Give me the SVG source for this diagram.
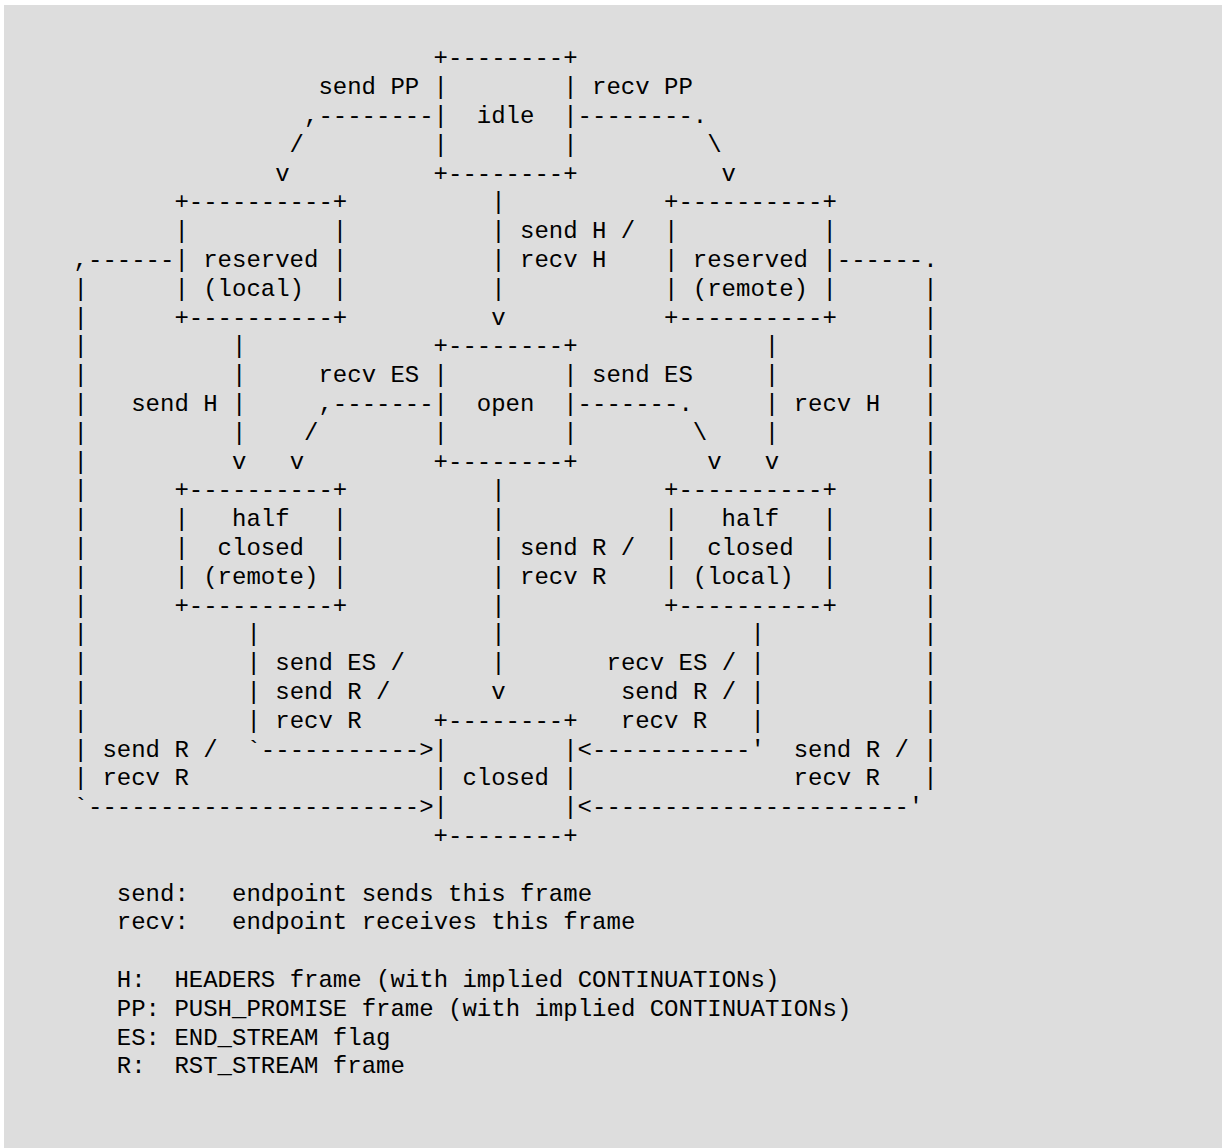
<svg xmlns="http://www.w3.org/2000/svg" width="1222" height="1148" viewBox="0 0 1222 1148" xml:space="preserve">
<style>
text { font-family: "Courier New", "Nimbus Mono PS", "Liberation Mono", monospace; font-size: 24px; fill: #000; white-space: pre; }
</style>
<rect x="0" y="0" width="1222" height="1148" fill="#ffffff"/>
<rect x="4" y="5" width="1218" height="1143" fill="#dddddd"/>

<g id="node-idle">
<text x="433.6" y="65.4">+--------+</text>
<text x="433.6" y="94.2">|        |</text>
<text x="433.6" y="123">|  idle  |</text>
<text x="433.6" y="151.8">|        |</text>
<text x="433.6" y="180.6">+--------+</text>
</g>

<g id="node-reserved-local">
<text x="174.4" y="209.4">+----------+</text>
<text x="174.4" y="238.2">|          |</text>
<text x="174.4" y="267">| reserved |</text>
<text x="174.4" y="295.8">| (local)  |</text>
<text x="174.4" y="324.6">+----------+</text>
</g>

<g id="node-reserved-remote">
<text x="664" y="209.4">+----------+</text>
<text x="664" y="238.2">|          |</text>
<text x="664" y="267">| reserved |</text>
<text x="664" y="295.8">| (remote) |</text>
<text x="664" y="324.6">+----------+</text>
</g>

<g id="node-open">
<text x="433.6" y="353.4">+--------+</text>
<text x="433.6" y="382.2">|        |</text>
<text x="433.6" y="411">|  open  |</text>
<text x="433.6" y="439.8">|        |</text>
<text x="433.6" y="468.6">+--------+</text>
</g>

<g id="node-half-closed-remote">
<text x="174.4" y="497.4">+----------+</text>
<text x="174.4" y="526.2">|   half   |</text>
<text x="174.4" y="555">|  closed  |</text>
<text x="174.4" y="583.8">| (remote) |</text>
<text x="174.4" y="612.6">+----------+</text>
</g>

<g id="node-half-closed-local">
<text x="664" y="497.4">+----------+</text>
<text x="664" y="526.2">|   half   |</text>
<text x="664" y="555">|  closed  |</text>
<text x="664" y="583.8">| (local)  |</text>
<text x="664" y="612.6">+----------+</text>
</g>

<g id="node-closed">
<text x="433.6" y="727.8">+--------+</text>
<text x="433.6" y="756.6">|        |</text>
<text x="433.6" y="785.4">| closed |</text>
<text x="433.6" y="814.2">|        |</text>
<text x="433.6" y="843">+--------+</text>
</g>

<g id="connectors">
<text x="318.4" y="94.2">send PP</text>
<text x="592" y="94.2">recv PP</text>
<text x="304" y="123">,--------</text>
<text x="577.6" y="123">--------.</text>
<text x="289.6" y="151.8">/</text>
<text x="707.2" y="151.8">\</text>
<text x="275.2" y="180.6">v</text>
<text x="721.6" y="180.6">v</text>
<text x="491.2" y="209.4">|</text>
<text x="491.2" y="238.2">| send H /</text>
<text x="491.2" y="267">| recv H</text>
<text x="491.2" y="295.8">|</text>
<text x="491.2" y="324.6">v</text>
<text x="73.6" y="267">,------</text>
<text x="836.8" y="267">------.</text>
<text x="73.6" y="295.8">|</text>
<text x="923.2" y="295.8">|</text>
<text x="73.6" y="324.6">|</text>
<text x="923.2" y="324.6">|</text>
<text x="73.6" y="353.4">|          |</text>
<text x="764.8" y="353.4">|          |</text>
<text x="73.6" y="382.2">|          |     recv ES</text>
<text x="592" y="382.2">send ES     |          |</text>
<text x="73.6" y="411">|   send H |     ,-------</text>
<text x="577.6" y="411">-------.     | recv H   |</text>
<text x="73.6" y="439.8">|          |    /</text>
<text x="692.8" y="439.8">\    |          |</text>
<text x="73.6" y="468.6">|          v   v</text>
<text x="707.2" y="468.6">v   v          |</text>
<text x="73.6" y="497.4">|</text>
<text x="491.2" y="497.4">|</text>
<text x="923.2" y="497.4">|</text>
<text x="73.6" y="526.2">|</text>
<text x="491.2" y="526.2">|</text>
<text x="923.2" y="526.2">|</text>
<text x="73.6" y="555">|</text>
<text x="491.2" y="555">| send R /</text>
<text x="923.2" y="555">|</text>
<text x="73.6" y="583.8">|</text>
<text x="491.2" y="583.8">| recv R</text>
<text x="923.2" y="583.8">|</text>
<text x="73.6" y="612.6">|</text>
<text x="491.2" y="612.6">|</text>
<text x="923.2" y="612.6">|</text>
<text x="73.6" y="641.4">|           |                |                 |           |</text>
<text x="73.6" y="670.2">|           | send ES /      |       recv ES / |           |</text>
<text x="73.6" y="699">|           | send R /       v        send R / |           |</text>
<text x="73.6" y="727.8">|           | recv R</text>
<text x="620.8" y="727.8">recv R   |           |</text>
<text x="73.6" y="756.6">| send R /  `-----------&gt;</text>
<text x="577.6" y="756.6">&lt;-----------'  send R / |</text>
<text x="73.6" y="785.4">| recv R</text>
<text x="793.6" y="785.4">recv R   |</text>
<text x="73.6" y="814.2">`-----------------------&gt;</text>
<text x="577.6" y="814.2">&lt;----------------------'</text>
</g>

<g id="legend">
<text x="116.8" y="900.6">send:   endpoint sends this frame</text>
<text x="116.8" y="929.4">recv:   endpoint receives this frame</text>
<text x="116.8" y="987">H:  HEADERS frame (with implied CONTINUATIONs)</text>
<text x="116.8" y="1015.8">PP: PUSH_PROMISE frame (with implied CONTINUATIONs)</text>
<text x="116.8" y="1044.6">ES: END_STREAM flag</text>
<text x="116.8" y="1073.4">R:  RST_STREAM frame</text>
</g>
</svg>
